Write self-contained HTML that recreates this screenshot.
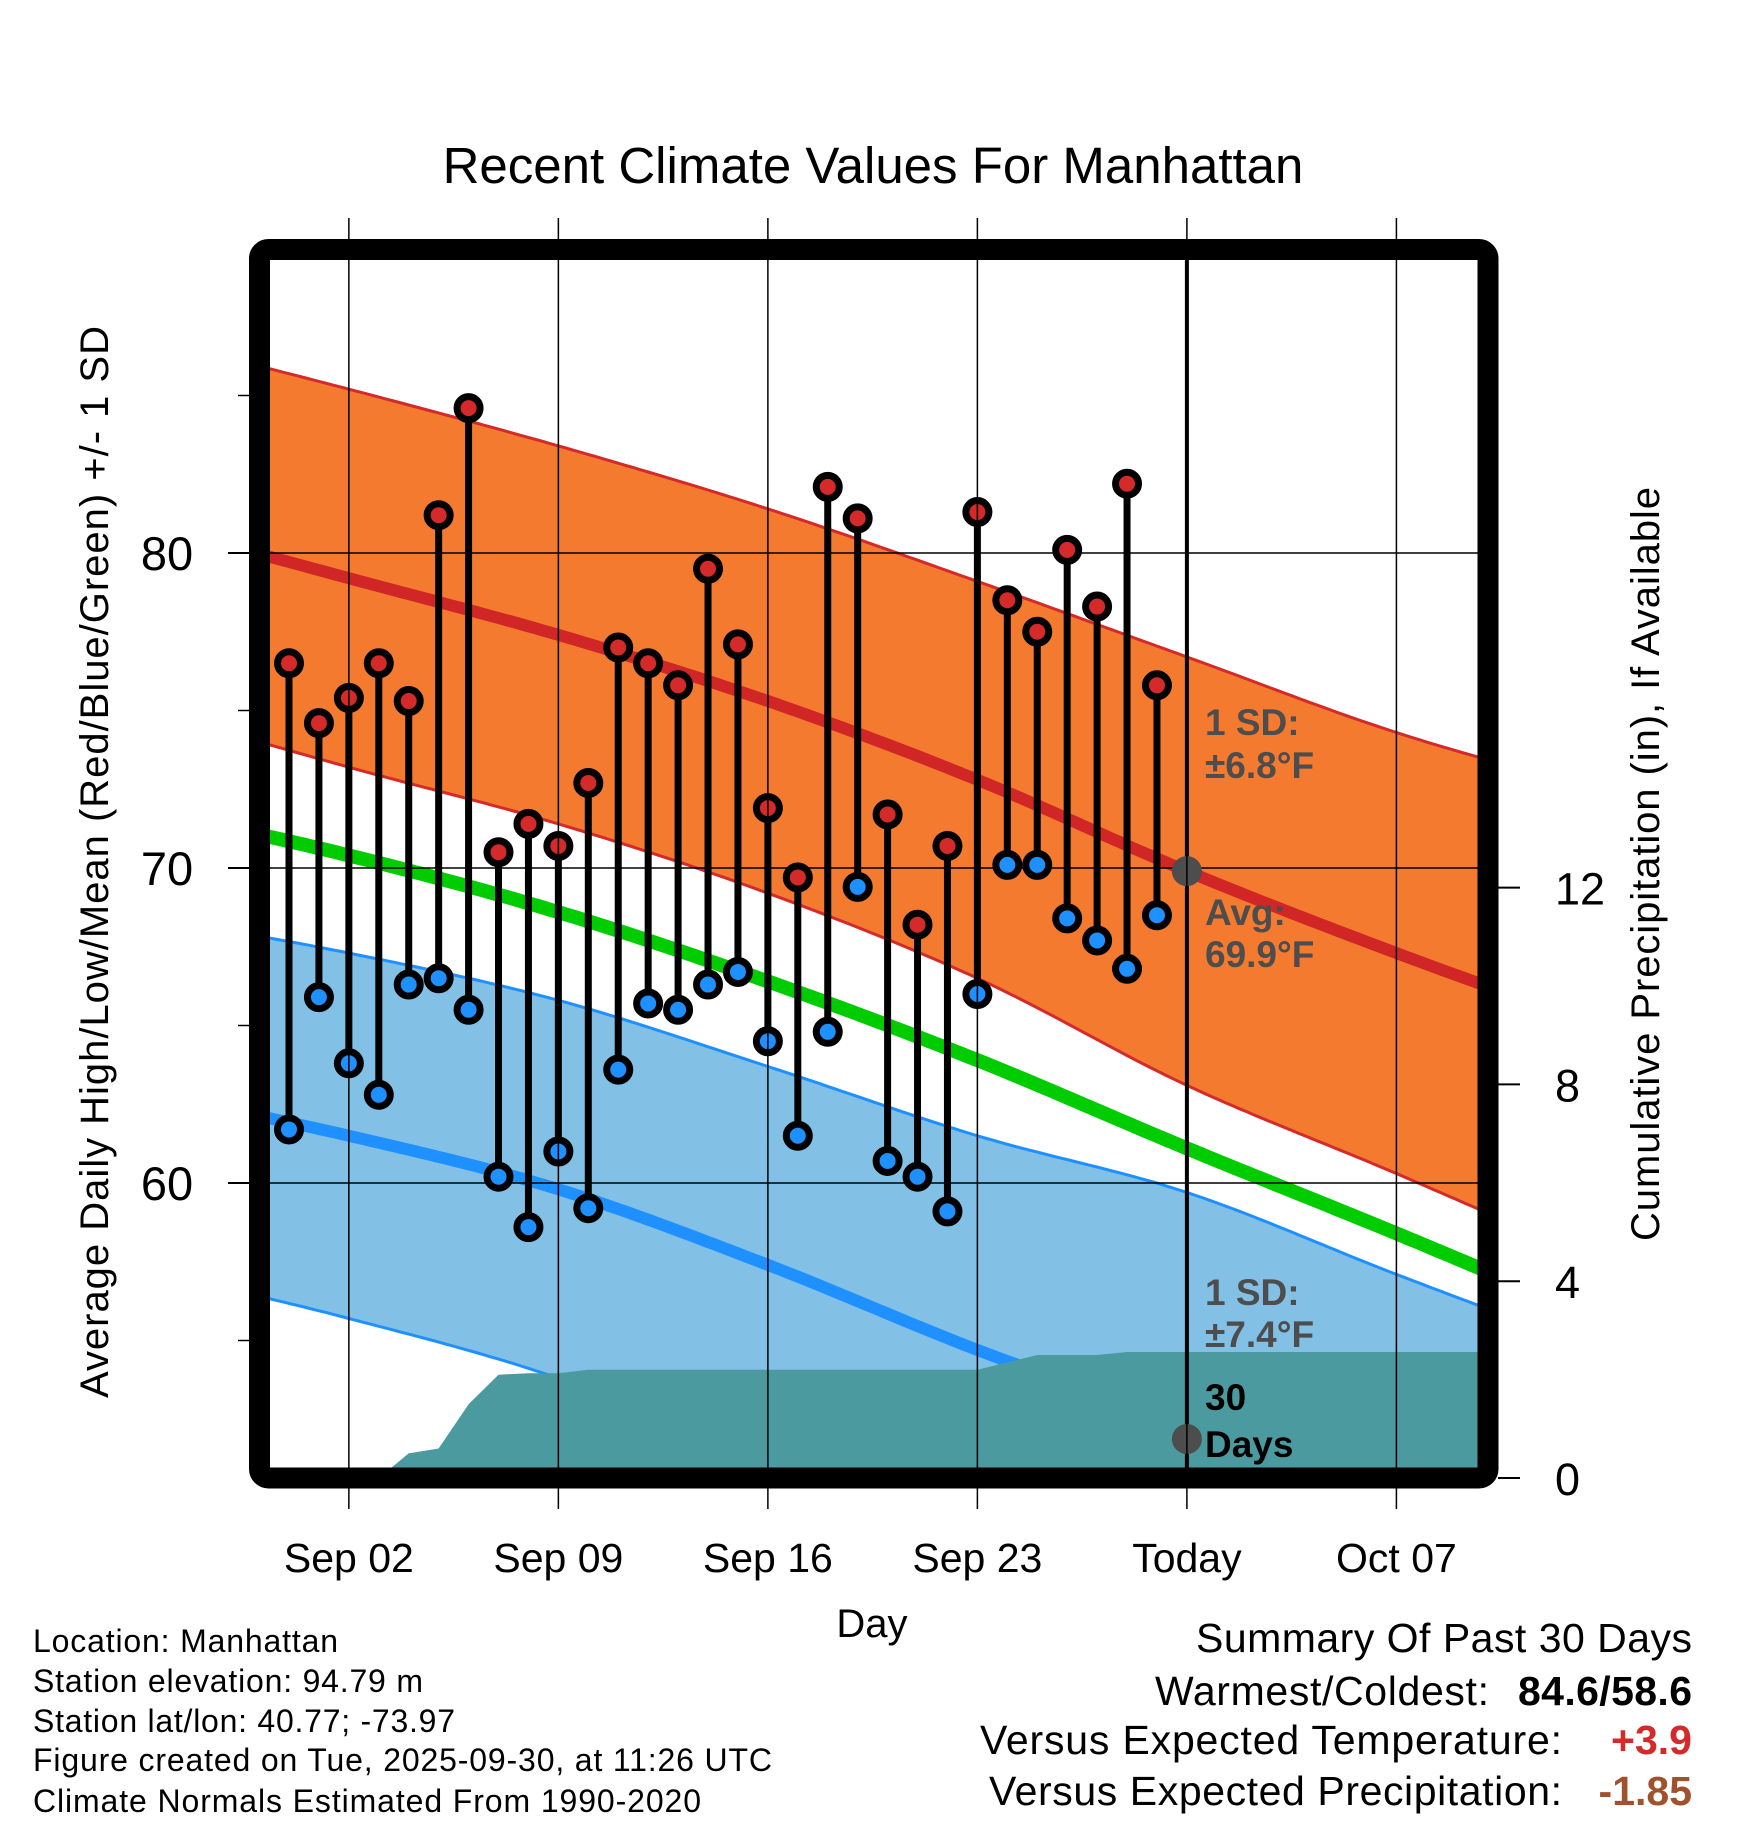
<!DOCTYPE html>
<html><head><meta charset="utf-8"><style>
html,body{margin:0;padding:0;background:#fff;}
svg{display:block;font-family:"Liberation Sans",Arial,sans-serif;}
</style></head><body>
<svg id="chart" width="1748" height="1828" viewBox="0 0 1748 1828" xmlns="http://www.w3.org/2000/svg">
<defs><clipPath id="plotclip"><rect x="270" y="260" width="1208" height="1208"/></clipPath></defs>
<text x="873" y="183" font-size="51" text-anchor="middle">Recent Climate Values For Manhattan</text>
<g id="plot" clip-path="url(#plotclip)"></g>
<g id="over"></g>
<rect x="259.5" y="249.5" width="1228.5" height="1228.5" rx="9" fill="none" stroke="#000" stroke-width="21"/>
<g id="axes"></g>
<text x="872" y="1637" font-size="40" text-anchor="middle">Day</text>
<text transform="translate(108,862) rotate(-90)" font-size="40" text-anchor="middle" textLength="1072">Average Daily High/Low/Mean (Red/Blue/Green) +/- 1 SD</text>
<text transform="translate(1659,864) rotate(-90)" font-size="40" text-anchor="middle" textLength="754">Cumulative Precipitation (in), If Available</text>
<g font-size="32">
<text x="33" y="1652" textLength="305">Location: Manhattan</text>
<text x="33" y="1692" textLength="390">Station elevation: 94.79 m</text>
<text x="33" y="1732" textLength="422">Station lat/lon: 40.77; -73.97</text>
<text x="33" y="1771" textLength="739">Figure created on Tue, 2025-09-30, at 11:26 UTC</text>
<text x="33" y="1812" textLength="668">Climate Normals Estimated From 1990-2020</text>
</g>
<g font-size="41">
<text x="1692" y="1652" text-anchor="end" textLength="496">Summary Of Past 30 Days</text>
<text x="1489" y="1705" text-anchor="end" textLength="334">Warmest/Coldest:</text>
<text x="1692" y="1705" text-anchor="end" font-weight="bold" textLength="174">84.6/58.6</text>
<text x="1562" y="1754" text-anchor="end" textLength="582">Versus Expected Temperature:</text>
<text x="1692" y="1754" text-anchor="end" font-weight="bold" fill="#d42a2a">+3.9</text>
<text x="1562" y="1805" text-anchor="end" textLength="573">Versus Expected Precipitation:</text>
<text x="1692" y="1805" text-anchor="end" font-weight="bold" fill="#a0522d">-1.85</text>
</g>
</svg>
<script>
const highs=[76.5,74.6,75.4,76.5,75.3,81.2,84.6,70.5,71.4,70.7,72.7,77.0,76.5,75.8,79.5,77.1,71.9,69.7,82.1,81.1,71.7,68.2,70.7,81.3,78.5,77.5,80.1,78.3,82.2,75.8];
const lows=[61.7,65.9,63.8,62.8,66.3,66.5,65.5,60.2,58.6,61.0,59.2,63.6,65.7,65.5,66.3,66.7,64.5,61.5,64.8,69.4,60.7,60.2,59.1,66.0,70.1,70.1,68.4,67.7,66.8,68.5];
const precip=[0,0,0,0,0.5,0.6,1.5,2.1,2.13,2.13,2.2,2.2,2.2,2.2,2.2,2.2,2.2,2.2,2.2,2.2,2.2,2.2,2.2,2.2,2.35,2.5,2.5,2.5,2.56,2.56];
const normDays=[-5,2,9,16,23,30,37,44];
const highMean=[81.0,79.2,77.4,75.3,72.8,69.9,67.3,64.9];
const highSD=[5.9,6.0,6.0,6.1,6.3,6.8,7.0,7.5];
const avgMean=[71.9,70.4,68.6,66.4,63.9,61.1,58.4,55.6];
const lowMean=[62.9,61.5,59.8,57.4,54.7,52.3,49.4,46.4];
const lowSD=[5.6,5.8,6.0,6.3,6.8,7.4,7.7,8.2];
const yTicks=[60,70,80];
const yMinor=[55,65,75,85];
const pTicks=[0,4,8,12];
const xTickDays=[2,9,16,23,30,37];
const xTickLabels=["Sep 02","Sep 09","Sep 16","Sep 23","Today","Oct 07"];

const NS="http://www.w3.org/2000/svg";
const X=d=>289+d*29.93;
const Y=t=>868-(t-70)*31.5;
const P=p=>1478-p*49.2;
function mk(par,tag,at){const e=document.createElementNS(NS,tag);for(const k in at)e.setAttribute(k,at[k]);par.appendChild(e);return e;}
function interp(vals,d){
  const n=normDays.length;let i=0;
  while(i<n-2&&d>normDays[i+1])i++;
  const p0=i>0?vals[i-1]:2*vals[0]-vals[1],p1=vals[i],p2=vals[i+1],p3=i+2<n?vals[i+2]:2*vals[n-1]-vals[n-2];
  const t=(d-normDays[i])/(normDays[i+1]-normDays[i]);
  const t2=t*t,t3=t2*t;
  return 0.5*((2*p1)+(-p0+p2)*t+(2*p0-5*p1+4*p2-p3)*t2+(-p0+3*p1-3*p2+p3)*t3);
}
function sampleDays(){const a=[];for(let d=-2;d<=42.001;d+=0.25)a.push(d);return a;}
const days=sampleDays();
function linePts(f){return days.map(d=>X(d).toFixed(1)+","+Y(f(d)).toFixed(1));}
const plot=document.getElementById('plot');

const up=linePts(d=>interp(highMean,d)+interp(highSD,d));
const dn=linePts(d=>interp(highMean,d)-interp(highSD,d));
const ob=mk(plot,'polygon',{points:up.concat(dn.slice().reverse()).join(' '),fill:'#f47a30'});


const obu=mk(plot,'polyline',{points:up.join(' '),fill:'none',stroke:'#d42a2a','stroke-width':3});


const obd=mk(plot,'polyline',{points:dn.join(' '),fill:'none',stroke:'#d42a2a','stroke-width':3});



const bu=linePts(d=>interp(lowMean,d)+interp(lowSD,d));
const bd=linePts(d=>interp(lowMean,d)-interp(lowSD,d));
const bb=mk(plot,'polygon',{points:bu.concat(bd.slice().reverse()).join(' '),fill:'#82c0e6'});


const bbu=mk(plot,'polyline',{points:bu.join(' '),fill:'none',stroke:'#1e90ff','stroke-width':3});


const bbd=mk(plot,'polyline',{points:bd.join(' '),fill:'none',stroke:'#1e90ff','stroke-width':3});



const rm=mk(plot,'polyline',{points:linePts(d=>interp(highMean,d)).join(' '),fill:'none',stroke:'#d02626','stroke-width':12});


const gm=mk(plot,'polyline',{points:linePts(d=>interp(avgMean,d)).join(' '),fill:'none',stroke:'#00cc00','stroke-width':14});


const lm=mk(plot,'polyline',{points:linePts(d=>interp(lowMean,d)).join(' '),fill:'none',stroke:'#1e90ff','stroke-width':12});



let pp=[];
pp.push(X(0).toFixed(1)+","+P(0));
precip.forEach((v,i)=>pp.push(X(i).toFixed(1)+","+P(v).toFixed(1)));
pp.push(X(41).toFixed(1)+","+P(precip[precip.length-1]).toFixed(1));
pp.push(X(41).toFixed(1)+","+P(0));
const pa=mk(plot,'polygon',{points:pp.join(' '),fill:'#4a9aa0'});



const axes=document.getElementById('axes');
yTicks.forEach(t=>{
  const g=mk(plot,'line',{x1:270,x2:1478,y1:Y(t),y2:Y(t),stroke:'#000','stroke-width':1.5});
  
  
  const tk=mk(axes,'line',{x1:228,x2:250,y1:Y(t),y2:Y(t),stroke:'#000','stroke-width':2});
  
  
  const tl=mk(axes,'text',{x:167,y:Y(t)+17,'font-size':47,'text-anchor':'middle'});
  tl.textContent=t;
  
  
});
yMinor.forEach(t=>{
  const tk=mk(axes,'line',{x1:238,x2:250,y1:Y(t),y2:Y(t),stroke:'#000','stroke-width':1.5});
  
  
});
xTickDays.forEach((d,i)=>{
  const g=mk(axes,'line',{x1:X(d),x2:X(d),y1:218,y2:1509,stroke:'#000','stroke-width':1.5});
  
  
  const tl=mk(axes,'text',{x:X(d),y:1572,'font-size':41,'text-anchor':'middle'});
  tl.textContent=xTickLabels[i];
  
  
});
pTicks.forEach(p=>{
  const tk=mk(axes,'line',{x1:1498,x2:1520,y1:P(p),y2:P(p),stroke:'#000','stroke-width':2});
  
  
  const tl=mk(axes,'text',{x:1555,y:P(p)+17,'font-size':45});
  tl.textContent=p;
  
  
});

const over=document.getElementById('over');
highs.forEach((h,i)=>{
  const s=mk(over,'line',{x1:X(i),x2:X(i),y1:Y(h),y2:Y(lows[i]),stroke:'#000','stroke-width':7});
  
  
});
highs.forEach((h,i)=>{
  const c=mk(over,'circle',{cx:X(i),cy:Y(h),r:11.5,fill:'#d42a2a',stroke:'#000','stroke-width':7});
  
  
  const c2=mk(over,'circle',{cx:X(i),cy:Y(lows[i]),r:11.5,fill:'#1e90ff',stroke:'#000','stroke-width':7});
  
  
});
const tdl=mk(over,'line',{x1:X(30),x2:X(30),y1:255,y2:1470,stroke:'#000','stroke-width':4});


const md=mk(over,'circle',{cx:X(30),cy:Y(interp(highMean,30)),r:15,fill:'#4d4d4d'});


const pd=mk(over,'circle',{cx:X(30),cy:1439,r:15,fill:'#4d4d4d'});


function note(txt,y,name,col){const t=mk(over,'text',{x:1205,y:y,'font-size':37,'font-weight':'bold',fill:col});t.textContent=txt;}
note('1 SD:',735,'high-sd-label','#4d4d4d');
note('\u00b16.8\u00b0F',778,'high-sd-value','#4d4d4d');
note('Avg:',925,'mean-label','#4d4d4d');
note('69.9\u00b0F',967,'mean-value','#4d4d4d');
note('1 SD:',1305,'low-sd-label','#4d4d4d');
note('\u00b17.4\u00b0F',1347,'low-sd-value','#4d4d4d');
note('30',1410,'days-count-label','#000');
note('Days',1457,'days-label','#000');
</script>
</body></html>
